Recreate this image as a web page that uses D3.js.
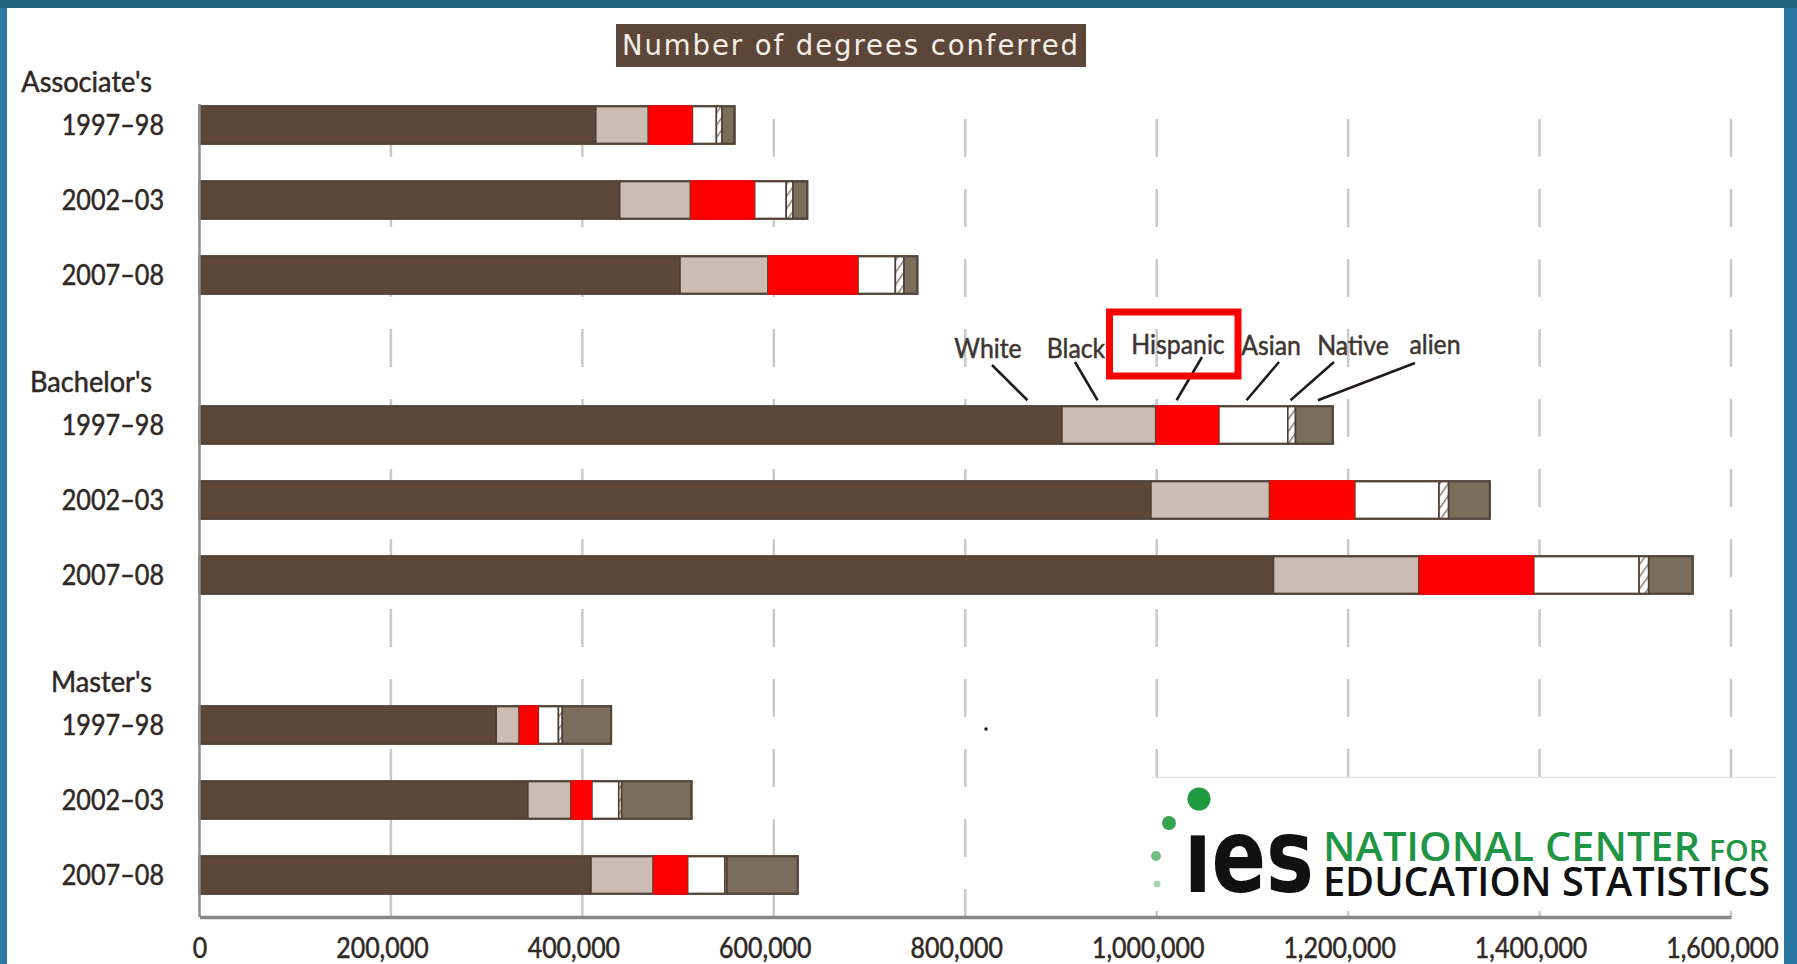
<!DOCTYPE html>
<html><head><meta charset="utf-8">
<script src="https://cdn.jsdelivr.net/npm/d3@7"></script>
<style>
html,body{margin:0;padding:0;background:#fff;overflow:hidden;}
svg{display:block;}
</style></head><body>
<svg id="chart" width="1797" height="964"></svg>
<script>
// ---------------- DATA ----------------
const degreeLevels = ["Associate's", "Bachelor's", "Master's"];
const years = ["1997–98", "2002–03", "2007–08"];
const races = ["White", "Black", "Hispanic", "Asian", "Native", "alien"];
// row order: Associate's 97-98, 02-03, 07-08, Bachelor's ..., Master's ...
const white    = [414000, 439000, 502000, 901000, 994000, 1122000, 310000, 343000, 409000];
const black    = [ 55000,  74000,  92000,  98000, 124000,  152000,  24000,  45000,  65000];
const hispanic = [ 46000,  67000,  94000,  66000,  89000,  120000,  20000,  22000,  36000];
const asian    = [ 25000,  33000,  39000,  72000,  88000,  110000,  21000,  28000,  39000];
const native   = [  6000,   7000,   9000,   8000,  10000,   10000,   4000,   3000,   2000];
const alien    = [ 13000,  15000,  14000,  39000,  43000,   46000,  51000,  73000,  74000];
const tickValues = [0, 200000, 400000, 600000, 800000, 1000000, 1200000, 1400000, 1600000];
const tickLabels = ["0", "200,000", "400,000", "600,000", "800,000", "1,000,000", "1,200,000", "1,400,000", "1,600,000"];
const chartTitle = "Number of degrees conferred";
const annotatedRow = "Bachelor's|1997–98";

// ---------------- BUILD ----------------
const seriesByRace = {White: white, Black: black, Hispanic: hispanic, Asian: asian, Native: native, alien: alien};
const rows = [];
degreeLevels.forEach((d, i) => years.forEach((yr, j) => {
  const o = {key: d + "|" + yr, degree: d, year: yr, first: j === 0};
  races.forEach(r => o[r] = seriesByRace[r][i * 3 + j]);
  rows.push(o);
}));
const rowKeys = [];
degreeLevels.forEach((d, i) => {
  if (i > 0) rowKeys.push("gap" + i);
  years.forEach(yr => rowKeys.push(d + "|" + yr));
});

const svg = d3.select("#chart");
const W = 1797, H = 964;
const FONT = "Lato, 'Open Sans', sans-serif";
const TXT = "#2f2825";

const x = d3.scaleLinear().domain([0, 1600000]).range([199.5, 1731]);
const y = d3.scaleBand().domain(rowKeys).range([87.5, 912.5]).paddingInner(0.5).paddingOuter(0.25);
const axisY = 917;

// frame
svg.append("rect").attr("width", W).attr("height", H).attr("fill", "#ffffff");
svg.append("rect").attr("x", 0).attr("y", 0).attr("width", 7).attr("height", H).attr("fill", "#2c79a5");
svg.append("rect").attr("x", 1784).attr("y", 0).attr("width", W - 1784).attr("height", H).attr("fill", "#2b76a0");
svg.append("rect").attr("x", 0).attr("y", 0).attr("width", W).attr("height", 8).attr("fill", "#22607f");

// hatch pattern
const defs = svg.append("defs");
const pat = defs.append("pattern").attr("id", "hatch").attr("patternUnits", "userSpaceOnUse")
  .attr("width", 7).attr("height", 7).attr("patternTransform", "rotate(35)");
pat.append("rect").attr("width", 7).attr("height", 7).attr("fill", "#ffffff");
pat.append("line").attr("x1", 0).attr("y1", 0).attr("x2", 0).attr("y2", 7)
  .attr("stroke", "#8a7f76").attr("stroke-width", 3);

// gridlines
svg.append("g").selectAll("line").data(tickValues.filter(d => d > 0)).join("line")
  .attr("x1", d => x(d)).attr("x2", d => x(d))
  .attr("y1", 119).attr("y2", axisY)
  .attr("stroke", "#c9c9c9").attr("stroke-width", 2.5)
  .attr("stroke-dasharray", "38,32");

// stacked bars
const color = {White: "#5c4739", Black: "#cbbdb1", Hispanic: "#b0a295", Asian: "#ffffff", Native: "url(#hatch)", alien: "#7a6d5c"};
const stacked = d3.stack().keys(races)(rows);
const bw = y.bandwidth();
const gBars = svg.append("g");
stacked.forEach(s => {
  gBars.append("g").selectAll("rect").data(s).join("rect")
    .attr("x", d => x(d[0])).attr("width", d => x(d[1]) - x(d[0]))
    .attr("y", d => y(d.data.key)).attr("height", bw)
    .attr("fill", color[s.key])
    .attr("stroke", "#4e3f35").attr("stroke-width", 1.6);
});
// outline
gBars.append("g").selectAll("rect").data(rows).join("rect")
  .attr("x", x(0)).attr("width", d => x(d3.sum(races, r => d[r])) - x(0))
  .attr("y", d => y(d.key)).attr("height", bw)
  .attr("fill", "none").attr("stroke", "#54453b").attr("stroke-width", 2.2);
// red highlight over Hispanic
const hisp = stacked.find(s => s.key === "Hispanic");
gBars.append("g").selectAll("rect").data(hisp).join("rect")
  .attr("x", d => x(d[0])).attr("width", d => x(d[1]) - x(d[0]))
  .attr("y", d => y(d.data.key) - 1).attr("height", bw + 2)
  .attr("fill", "#ff0000");

// left axis line
svg.append("line").attr("x1", x(0)).attr("x2", x(0)).attr("y1", 104).attr("y2", axisY)
  .attr("stroke", "#8c8c8c").attr("stroke-width", 2.5);

// logo background
svg.append("rect").attr("x", 1150).attr("y", 778).attr("width", 634).attr("height", 133).attr("fill", "#ffffff");
svg.append("line").attr("x1", 1152).attr("x2", 1776).attr("y1", 777.5).attr("y2", 777.5)
  .attr("stroke", "#e2e2e2").attr("stroke-width", 1.5);

// bottom axis
const xAxis = d3.axisBottom(x).tickValues(tickValues).tickSize(0)
  .tickFormat((d, i) => tickLabels[i]);
const gx = svg.append("g").attr("transform", `translate(0,${axisY})`).call(xAxis);
gx.select(".domain").attr("stroke", "#878787").attr("stroke-width", 3.5);
gx.selectAll(".tick text").attr("y", 31).attr("dy", "0.35em")
  .attr("font-family", FONT).attr("font-size", 28).attr("fill", TXT)
  .attr("stroke", TXT).attr("stroke-width", 0.5)
  .attr("transform", d => `translate(${d === 0 ? 0 : -9},0) scale(0.89,1)`);

// text helper (condensed look)
function label(parent, tx, ty, text, anchor, size, sx, fill) {
  const f = fill || TXT;
  parent.append("g").attr("transform", `translate(${tx},${ty})`)
    .append("text").attr("transform", `scale(${sx || 0.9},1)`)
    .attr("text-anchor", anchor).attr("dy", "0.35em")
    .attr("font-family", FONT).attr("font-size", size || 28)
    .attr("fill", f).attr("stroke", f).attr("stroke-width", 0.5).text(text);
}

// row labels
rows.forEach(r => {
  label(svg, 164, y(r.key) + bw / 2, r.year, "end", 28, 0.9);
  if (r.first) label(svg, 152, y(r.key) + bw / 2 - 43, r.degree, "end", 28, 0.97);
});

// title box
svg.append("rect").attr("x", 616).attr("y", 24).attr("width", 470).attr("height", 43).attr("fill", "#5b4639");
svg.append("text").attr("x", 622).attr("y", 55)
  .attr("textLength", 456).attr("lengthAdjust", "spacing")
  .attr("font-family", "'DejaVu Sans', Verdana, sans-serif").attr("font-size", 27.5)
  .attr("fill", "#f4eee6").text(chartTitle);

// annotation for races
const annRow = stacked.map(s => s.find(d => d.data.key === annotatedRow));
const annLayout = [
  {tx: 988,  ty: 349, lx: 992,  ly: 365, frac: 0.96},
  {tx: 1076, ty: 349, lx: 1075, ly: 362, frac: 0.38},
  {tx: 1178, ty: 345, lx: 1202, ly: 357, frac: 0.33},
  {tx: 1271, ty: 346, lx: 1279, ly: 362, frac: 0.4},
  {tx: 1353, ty: 346, lx: 1334, ly: 362, frac: 0.35},
  {tx: 1435, ty: 345, lx: 1415, ly: 363, frac: 0.6}
];
const rowTop = y(annotatedRow);
races.forEach((r, i) => {
  const seg = annRow[i], L = annLayout[i];
  const bx = x(seg[0]) + (x(seg[1]) - x(seg[0])) * L.frac;
  svg.append("line").attr("x1", L.lx).attr("y1", L.ly).attr("x2", bx).attr("y2", rowTop - 6)
    .attr("stroke", "#1f1a17").attr("stroke-width", 2.5);
  label(svg, L.tx, L.ty, r, "middle", 27, 0.92, "#3d3531");
});
svg.append("rect").attr("x", 1109.5).attr("y", 312).attr("width", 128.5).attr("height", 64)
  .attr("fill", "none").attr("stroke", "#ff0000").attr("stroke-width", 7);

// stray dot
svg.append("circle").attr("cx", 986).attr("cy", 729).attr("r", 1.8).attr("fill", "#222");

// IES logo
const logo = svg.append("g");
[[1199, 799, 11.5, "#1f9a3f"], [1169, 823, 7, "#35a24d"], [1156, 856, 5, "#72bd80"], [1157, 884, 3.5, "#a9d6b1"]]
  .forEach(c => logo.append("circle").attr("cx", c[0]).attr("cy", c[1]).attr("r", c[2]).attr("fill", c[3]));
logo.append("text").attr("x", 1184).attr("y", 892).attr("textLength", 130).attr("lengthAdjust", "spacingAndGlyphs")
  .attr("font-family", "'DejaVu Sans', sans-serif").attr("font-weight", "bold").attr("font-size", 104)
  .attr("fill", "#111").text("ıes");
logo.append("text").attr("x", 1323).attr("y", 861).attr("textLength", 377).attr("lengthAdjust", "spacingAndGlyphs")
  .attr("font-family", "'Open Sans', sans-serif").attr("font-weight", 600).attr("font-size", 40)
  .attr("fill", "#1f9545").text("NATIONAL CENTER");
logo.append("text").attr("x", 1709).attr("y", 861).attr("textLength", 59).attr("lengthAdjust", "spacingAndGlyphs")
  .attr("font-family", "'Open Sans', sans-serif").attr("font-weight", 600).attr("font-size", 29)
  .attr("fill", "#1f9545").text("FOR");
logo.append("text").attr("x", 1323).attr("y", 896).attr("textLength", 447).attr("lengthAdjust", "spacingAndGlyphs")
  .attr("font-family", "'Open Sans', sans-serif").attr("font-weight", 600).attr("font-size", 40)
  .attr("fill", "#111").text("EDUCATION STATISTICS");
</script>
</body></html>
